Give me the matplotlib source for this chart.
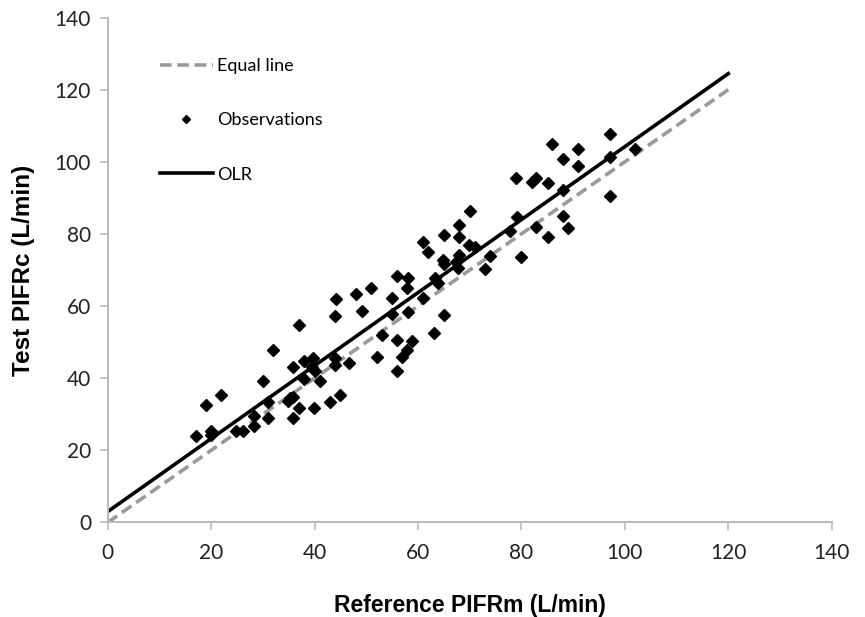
import matplotlib.pyplot as plt
import numpy as np

ref_pifr = [44.0, 37.0, 32.0, 35.9, 38.0, 39.7, 39.6, 40.0, 38.0, 41.0,
            43.9, 43.9, 46.7, 30.1, 22.0, 19.1, 35.2, 35.8, 34.8, 31.0,
            37.0, 39.9, 42.9, 44.9, 28.2, 31.0, 35.9, 28.2, 24.9, 26.1,
            19.9, 19.9, 17.0,
            70.1, 79.1, 68.0, 77.8, 65.0, 68.0, 61.0, 69.9, 71.0, 62.0,
            80.0, 73.9, 68.0, 64.9, 65.0, 67.3, 67.7, 72.9, 56.0, 58.1,
            57.9, 63.3, 63.9, 51.0, 48.0, 44.1, 55.0, 61.0, 49.1, 55.0,
            58.1, 65.0, 53.0, 63.1, 56.0, 58.9, 57.9, 57.0, 52.0, 56.0,
            97.1, 86.0, 91.0, 88.0, 97.1, 102.0, 91.0, 78.9, 82.1, 82.9,
            85.1, 88.0, 97.1, 82.9, 88.1, 89.0, 85.1]
test_pifr = [57.3, 54.7, 47.7, 43.2, 44.9, 45.6, 43.2, 41.9, 39.8, 39.1,
             45.6, 43.7, 44.2, 39.1, 35.4, 32.6, 34.5, 34.8, 33.6, 33.3,
             31.7, 31.7, 33.3, 35.4, 29.4, 29.0, 29.1, 26.8, 25.3, 25.4,
             25.3, 24.3, 23.9,
             86.3, 84.7, 82.6, 80.8, 79.7, 79.2, 77.8, 76.9, 76.4, 75.0,
             73.7, 73.9, 74.1, 72.8, 71.6, 72.3, 70.5, 70.2, 68.3, 67.9,
             64.9, 67.7, 66.3, 64.9, 63.3, 62.0, 62.3, 62.2, 58.5, 57.7,
             58.3, 57.5, 52.0, 52.5, 50.6, 50.4, 47.9, 45.8, 45.8, 42.1,
             107.6, 104.8, 103.5, 100.9, 101.3, 103.5, 98.8, 95.5, 94.4, 95.4,
             94.1, 92.1, 90.5, 82.0, 84.9, 81.7, 79.2]

line_x = [0, 120]
olr_intercept = 3.0
olr_slope = 1.012

x_ticks = [0, 20, 40, 60, 80, 100, 120, 140]
y_ticks = [0, 20, 40, 60, 80, 100, 120, 140]

fig = plt.figure(figsize=(8.65, 6.17), dpi=100)
ax = fig.add_axes([0.1245, 0.1532, 0.837, 0.8184])

lx = np.array(line_x)
ax.plot(lx, lx, color='#9a9a9a', lw=2.6, dashes=(3.2, 1.6), label='Equal line')
ax.plot(ref_pifr, test_pifr, 'D', color='black', ms=6, ls='none', label='Observations')
ax.plot(lx, olr_intercept + olr_slope * lx, color='black', lw=2.6, label='OLR')

ax.set_xlim(0, 140)
ax.set_ylim(0, 140)
ax.set_xticks(x_ticks)
ax.set_yticks(y_ticks)

# Achsen im Excel-Stil
for s in ['top', 'right']:
    ax.spines[s].set_visible(False)
for s in ['left', 'bottom']:
    ax.spines[s].set_color('#bbbbbb')
    ax.spines[s].set_linewidth(1.5)
ax.tick_params(axis='both', direction='out', length=6, width=1.2, color='#bbbbbb',
               labelsize=15, labelcolor='#222222')
ax.tick_params(axis='x', pad=9)
ax.tick_params(axis='y', pad=6)
for lab in ax.get_xticklabels() + ax.get_yticklabels():
    lab.set_family('Lato')

ax.set_xlabel('Reference PIFRm (L/min)', fontsize=16.5, fontweight='bold',
              family='Liberation Sans', labelpad=22)
ax.set_ylabel('Test PIFRc (L/min)', fontsize=17.5, fontweight='bold',
              family='Liberation Sans', labelpad=14)

leg = ax.legend(loc='upper left', bbox_to_anchor=(0.05, 0.952), frameon=False,
                handlelength=2.9, handletextpad=0.25, labelspacing=2.12,
                markerscale=0.75, prop={'family': 'Lato', 'size': 13})

fig.savefig('out.png', dpi=100)
